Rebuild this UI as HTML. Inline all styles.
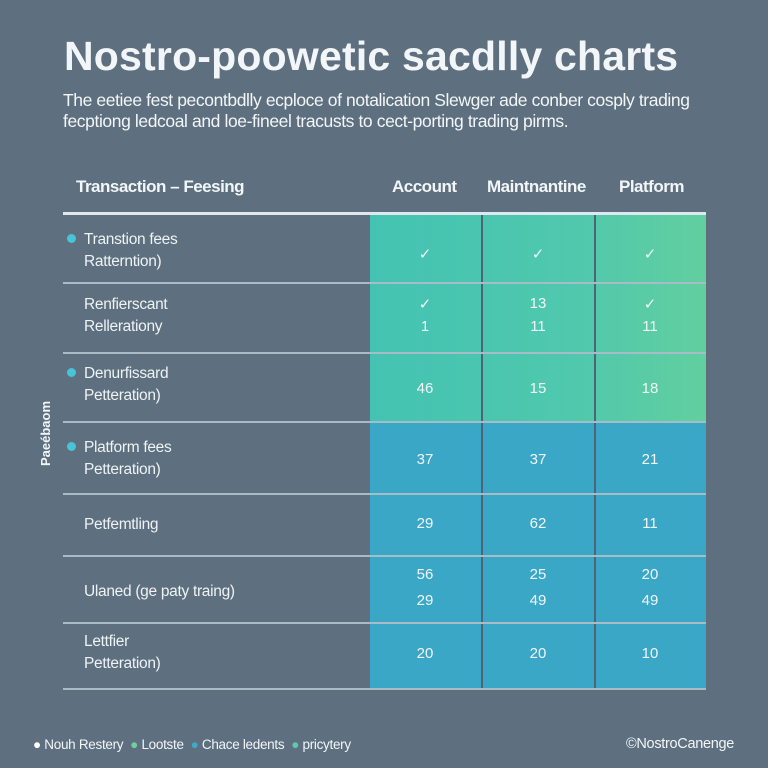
<!DOCTYPE html>
<html><head><style>
body{margin:0;width:768px;height:768px;background:#5e6f7f;font-family:"Liberation Sans",sans-serif;color:#f2f6f8;position:relative;overflow:hidden}
.a{position:absolute;white-space:nowrap}
.t{left:64px;top:33px;font-size:41px;font-weight:bold;letter-spacing:0.2px}
.s{left:63px;font-size:17.5px;letter-spacing:-0.4px}
.h{font-size:17px;top:177px;font-weight:bold;letter-spacing:-0.5px}
.l{left:84px;font-size:15.5px;color:#eef3f5;letter-spacing:-0.3px}
.d{position:absolute;width:9px;height:9px;border-radius:50%;background:#49c3d6;left:67px}
.c{position:absolute;font-size:15px;text-align:center;width:112px}
.hl{position:absolute;left:63px;width:643px;height:2px;background:#a8bcc8}
.vl{position:absolute;width:2px;background:#4d6575;top:214px;height:475px}
</style></head><body>
<div class="a t">Nostro-poowetic sacdlly charts</div>
<div class="a s" style="top:90px">The eetiee fest pecontbdlly ecploce of notalication Slewger ade conber cosply trading</div>
<div class="a s" style="top:111px">fecptiong ledcoal and loe-fineel tracusts to cect-porting trading pirms.</div>
<div class="a h" style="left:76px">Transaction – Feesing</div>
<div class="a h" style="left:392px">Account</div>
<div class="a h" style="left:487px">Maintnantine</div>
<div class="a h" style="left:619px">Platform</div>
<div style="position:absolute;left:370px;top:214px;width:336px;height:209px;background:linear-gradient(90deg,#44c3b3,#4fc8ad 60%,#62cf9f)"></div>
<div style="position:absolute;left:370px;top:423px;width:336px;height:266px;background:#3aa7c7"></div>
<div class="vl" style="left:481px"></div><div class="vl" style="left:594px"></div>
<div class="hl" style="top:212px;height:3px;background:#dfe8ee"></div>
<div class="hl" style="top:282px"></div><div class="hl" style="top:352px"></div><div class="hl" style="top:421px"></div><div class="hl" style="top:493px"></div><div class="hl" style="top:555px"></div><div class="hl" style="top:622px"></div><div class="hl" style="top:688px"></div>
<div class="a" style="left:38px;font-size:13px;font-weight:bold;transform:rotate(-90deg);transform-origin:0 0;top:466px">Paeébaom</div>
<div class="d" style="top:234px"></div><div class="a l" style="top:231px">Transtion fees</div><div class="a l" style="top:253px">Ratterntion)</div>
<div class="a l" style="top:296px">Renfierscant</div><div class="a l" style="top:318px">Rellerationy</div>
<div class="d" style="top:368px"></div><div class="a l" style="top:365px">Denurfissard</div><div class="a l" style="top:387px">Petteration)</div>
<div class="d" style="top:442px"></div><div class="a l" style="top:439px">Platform fees</div><div class="a l" style="top:461px">Petteration)</div>
<div class="a l" style="top:516px">Petfemtling</div>
<div class="a l" style="top:583px">Ulaned (ge paty traing)</div>
<div class="a l" style="top:633px">Lettfier</div><div class="a l" style="top:655px">Petteration)</div>
<div class="c" style="left:369px;top:245px">✓</div><div class="c" style="left:482px;top:245px">✓</div><div class="c" style="left:594px;top:245px">✓</div>
<div class="c" style="left:369px;top:295px">✓</div><div class="c" style="left:482px;top:295px">13</div><div class="c" style="left:594px;top:295px">✓</div>
<div class="c" style="left:369px;top:318px">1</div><div class="c" style="left:482px;top:318px">11</div><div class="c" style="left:594px;top:318px">11</div>
<div class="c" style="left:369px;top:380px">46</div><div class="c" style="left:482px;top:380px">15</div><div class="c" style="left:594px;top:380px">18</div>
<div class="c" style="left:369px;top:451px">37</div><div class="c" style="left:482px;top:451px">37</div><div class="c" style="left:594px;top:451px">21</div>
<div class="c" style="left:369px;top:515px">29</div><div class="c" style="left:482px;top:515px">62</div><div class="c" style="left:594px;top:515px">11</div>
<div class="c" style="left:369px;top:566px">56</div><div class="c" style="left:482px;top:566px">25</div><div class="c" style="left:594px;top:566px">20</div>
<div class="c" style="left:369px;top:592px">29</div><div class="c" style="left:482px;top:592px">49</div><div class="c" style="left:594px;top:592px">49</div>
<div class="c" style="left:369px;top:645px">20</div><div class="c" style="left:482px;top:645px">20</div><div class="c" style="left:594px;top:645px">10</div>
<div class="a" style="left:33px;top:737px;font-size:13.5px;letter-spacing:-0.3px"><span style="color:#fff">●</span> Nouh Restery &nbsp;<span style="color:#6fcf9f">●</span> Lootste &nbsp;<span style="color:#3fa9c9">●</span> Chace ledents &nbsp;<span style="color:#5fc9a8">●</span> pricytery</div>
<div class="a" style="left:626px;top:736px;font-size:14.5px;letter-spacing:-0.3px">©NostroCanenge</div>
</body></html>
